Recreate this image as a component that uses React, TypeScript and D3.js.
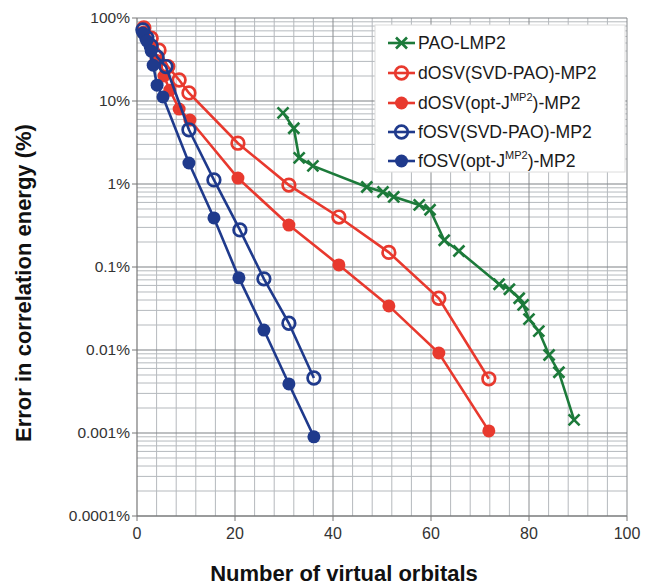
import React from "react";
import * as d3 from "d3";

// ---------- data ----------
const xTicks = [0, 20, 40, 60, 80, 100];
const yTicks = [1e-4, 1e-3, 1e-2, 1e-1, 1, 10, 100];
const yTickLabels = ["0.0001%", "0.001%", "0.01%", "0.1%", "1%", "10%", "100%"];

const paoX = [29.8, 32.0, 33.1, 35.9, 46.9, 50.2, 52.4, 57.6, 59.8, 62.7, 65.7, 73.9, 76.0, 78.0, 78.8, 80.0, 82.0, 84.1, 86.1, 89.2];
const paoY = [7.2, 4.7, 2.06, 1.65, 0.92, 0.8, 0.7, 0.56, 0.49, 0.21, 0.156, 0.062, 0.054, 0.042, 0.035, 0.0236, 0.0169, 0.0087, 0.0054, 0.00144];

const dSvdX = [1.4, 2.9, 4.5, 6.3, 8.6, 10.6, 20.6, 31.0, 41.2, 51.4, 61.6, 71.8];
const dSvdY = [76, 57, 41, 26, 17.9, 12.5, 3.1, 0.97, 0.4, 0.15, 0.042, 0.0045];

const dOptX = [1.4, 2.7, 3.9, 5.5, 6.7, 8.6, 10.8, 20.6, 31.0, 41.2, 51.4, 61.6, 71.8];
const dOptY = [68, 47, 31, 20, 13.5, 8.0, 5.9, 1.18, 0.32, 0.106, 0.034, 0.0092, 0.00106];

const fSvdX = [1.2, 2.0, 2.9, 4.1, 5.9, 10.6, 15.7, 21.0, 25.9, 31.0, 36.1];
const fSvdY = [72, 58, 46, 34, 26, 4.5, 1.12, 0.28, 0.072, 0.021, 0.0046];

const fOptX = [1.2, 2.0, 2.9, 3.3, 4.1, 5.3, 10.6, 15.7, 20.8, 25.9, 31.0, 36.1];
const fOptY = [66, 53, 40, 27, 15.5, 11.2, 1.79, 0.39, 0.074, 0.0174, 0.0039, 0.0009];

const GREEN = "#1c7a3a";
const RED = "#e8392e";
const BLUE = "#1f3a8c";

type Series = { name: string; sup?: string; tail?: string; xs: number[]; ys: number[]; color: string; marker: "x" | "open" | "filled" };

const series: Series[] = [
  { name: "PAO-LMP2", xs: paoX, ys: paoY, color: GREEN, marker: "x" },
  { name: "dOSV(SVD-PAO)-MP2", xs: dSvdX, ys: dSvdY, color: RED, marker: "open" },
  { name: "dOSV(opt-J", sup: "MP2", tail: ")-MP2", xs: dOptX, ys: dOptY, color: RED, marker: "filled" },
  { name: "fOSV(SVD-PAO)-MP2", xs: fSvdX, ys: fSvdY, color: BLUE, marker: "open" },
  { name: "fOSV(opt-J", sup: "MP2", tail: ")-MP2", xs: fOptX, ys: fOptY, color: BLUE, marker: "filled" },
];

const W = 655;
const H = 587;
const L = 137, R = 627, T = 18, B = 516;

function Marker({ kind, x, y, color }: { kind: string; x: number; y: number; color: string }) {
  if (kind === "x") {
    const s = 5.5;
    return (
      <g stroke={color} strokeWidth={2.6} strokeLinecap="butt">
        <line x1={x - s} y1={y - s} x2={x + s} y2={y + s} />
        <line x1={x - s} y1={y + s} x2={x + s} y2={y - s} />
      </g>
    );
  }
  if (kind === "open") return <circle cx={x} cy={y} r={6.3} fill="none" stroke={color} strokeWidth={2.7} />;
  return <circle cx={x} cy={y} r={6.5} fill={color} />;
}

export default function App() {
  const x = d3.scaleLinear().domain([0, 100]).range([L, R]);
  const y = d3.scaleLog().domain([1e-4, 100]).range([B, T]);

  const vGrid = d3.range(4, 101, 4);
  const hMinor: number[] = [];
  for (let e = -4; e < 2; e++) for (let k = 2; k <= 9; k++) hMinor.push(k * Math.pow(10, e));

  const line = d3.line<[number, number]>().x((d) => x(d[0])).y((d) => y(d[1]));

  const font = "'Liberation Sans', Arial, Helvetica, sans-serif";
  const legX = 375, legY = 25, legW = 250, legH = 147;
  const rowY = [43, 73, 103, 132, 161];

  return (
    <svg width={W} height={H} style={{ position: "absolute", left: 0, top: 0, background: "#fff" }} fontFamily={font}>
      {/* grid */}
      <g>
        {hMinor.map((v, i) => (
          <line key={"hm" + i} x1={L} x2={R} y1={y(v)} y2={y(v)} stroke="#b5b9bd" strokeWidth={1} />
        ))}
        {vGrid.map((v, i) => (
          <line key={"v" + i} x1={x(v)} x2={x(v)} y1={T} y2={B} stroke={v % 20 === 0 ? "#8a8d90" : "#b5b9bd"} strokeWidth={1} />
        ))}
        {yTicks.map((v, i) => (
          <line key={"hM" + i} x1={L} x2={R} y1={y(v)} y2={y(v)} stroke="#7f8285" strokeWidth={1.2} />
        ))}
      </g>
      {/* axes */}
      <line x1={L} x2={L} y1={T} y2={B} stroke="#777" strokeWidth={1.2} />
      <line x1={L} x2={R} y1={B} y2={B} stroke="#777" strokeWidth={1.2} />
      {yTicks.map((v, i) => (
        <g key={"yt" + i}>
          <line x1={L - 5} x2={L} y1={y(v)} y2={y(v)} stroke="#777" />
          <text x={L - 7} y={y(v)} dy="0.35em" textAnchor="end" fontSize={15.5} fill="#333">
            {yTickLabels[i]}
          </text>
        </g>
      ))}
      {xTicks.map((v, i) => (
        <g key={"xt" + i}>
          <line x1={x(v)} x2={x(v)} y1={B} y2={B + 5} stroke="#777" />
          <text x={x(v)} y={B + 23} textAnchor="middle" fontSize={16} fill="#333">
            {v}
          </text>
        </g>
      ))}
      {/* legend box */}
      <rect x={legX} y={legY} width={legW} height={legH} fill="#fff" stroke="#dcdcdc" strokeWidth={1} />
      {series.map((s, i) => (
        <g key={"lg" + i}>
          <line x1={388} x2={415} y1={rowY[i]} y2={rowY[i]} stroke={s.color} strokeWidth={2.6} />
          <Marker kind={s.marker} x={401.5} y={rowY[i]} color={s.color} />
          <text x={418} y={rowY[i]} dy="0.36em" fontSize={17.6} fill="#1a1a1a">
            {s.name}
            {s.sup ? (
              <tspan fontSize={11} dy="-0.75em">{s.sup}</tspan>
            ) : null}
            {s.tail ? <tspan dy={s.sup ? "0.47em" : 0} fontSize={17.6}>{s.tail}</tspan> : null}
          </text>
        </g>
      ))}
      {/* series */}
      {series.map((s, i) => {
        const pts: [number, number][] = s.xs.map((v, j) => [v, s.ys[j]]);
        return (
          <g key={"s" + i}>
            <path d={line(pts) || ""} fill="none" stroke={s.color} strokeWidth={2.6} />
            {pts.map((p, j) => (
              <Marker key={j} kind={s.marker} x={x(p[0])} y={y(p[1])} color={s.color} />
            ))}
          </g>
        );
      })}
      {/* titles */}
      <text x={344} y={581} textAnchor="middle" fontSize={22} fontWeight="bold" fill="#111">
        Number of virtual orbitals
      </text>
      <text transform={`translate(31,${(T + B) / 2 + 16}) rotate(-90)`} textAnchor="middle" fontSize={22} fontWeight="bold" fill="#111">
        Error in correlation energy (%)
      </text>
    </svg>
  );
}
